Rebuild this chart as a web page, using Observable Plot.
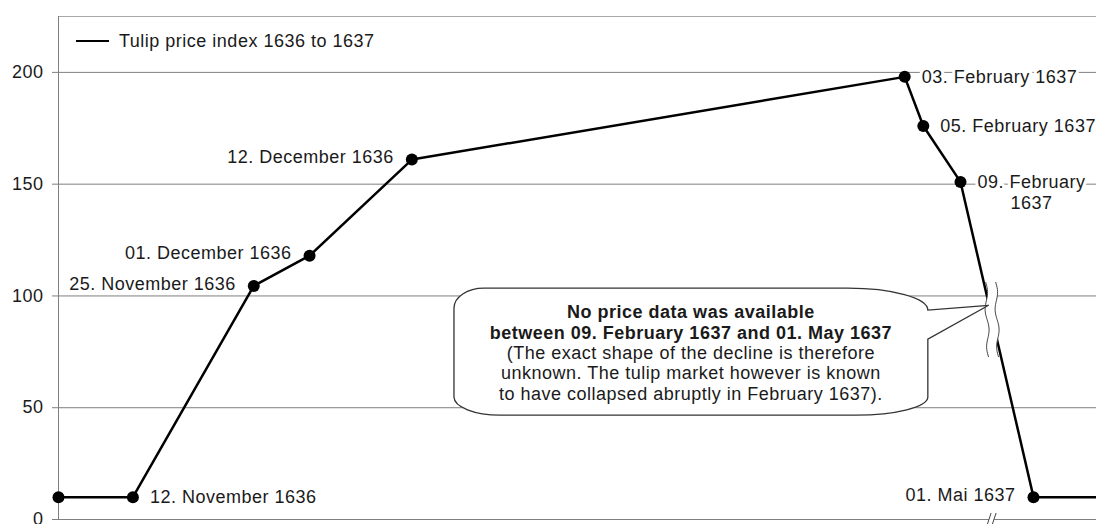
<!DOCTYPE html>
<html><head><meta charset="utf-8">
<script src="https://cdn.jsdelivr.net/npm/d3@7"></script>
<script src="https://cdn.jsdelivr.net/npm/@observablehq/plot@0.6"></script>
<style>
html,body{margin:0;padding:0;background:#fff;overflow:hidden}
svg text{letter-spacing:0.5px}
</style></head><body><div id="chart"></div>
<script>
// ---- data ----
const dates = ["1636-11-04","1636-11-12","1636-11-25","1636-12-01","1636-12-12","1637-02-03","1637-02-05","1637-02-09","1637-05-01","1637-05-08"];
const prices = [10, 10, 104.5, 118, 161, 198, 176, 151, 10, 10];
const pointLabels = ["", "12. November 1636", "25. November 1636", "01. December 1636", "12. December 1636", "03. February 1637", "05. February 1637", "09. February\n1637", "01. Mai 1637", ""];
const yTicks = [0, 50, 100, 150, 200];
const legendLabel = "Tulip price index 1636 to 1637";
const calloutLines = ["No price data was available", "between 09. February 1637 and 01. May 1637", "(The exact shape of the decline is therefore", "unknown. The tulip market however is known", "to have collapsed abruptly in February 1637)."];
const calloutBold = [true, true, false, false, false];

const data = dates.map((d, i) => ({date: new Date(d), price: prices[i], label: pointLabels[i], i}));
const gapStart = data[7], gapEnd = data[8];   // no data between these two points

// ---- annotation geometry (in data coordinates) ----
const callout = {x1: new Date("1636-12-16T14:00Z"), x2: new Date("1637-02-05T13:00Z"), y1: 103.3, y2: 46.5, tipValue: 95.6};
const breakValue = 89;

const ink = "#1a1a1a", gridColor = "#7f7f7f";
const font = "'Liberation Sans', Arial, Helvetica, sans-serif";

function onGap(scales, v) {
  const t = (gapStart.price - v) / (gapStart.price - gapEnd.price);
  const x0 = scales.x(gapStart.date), y0 = scales.y(gapStart.price);
  const x1 = scales.x(gapEnd.date), y1 = scales.y(gapEnd.price);
  return [x0 + t * (x1 - x0), y0 + t * (y1 - y0)];
}

function breakMark(index, scales, values, dims) {
  const [cx, cy] = onGap(scales, breakValue);
  const g = d3.create("svg:g");
  const wave = (off) => d3.range(0, 41).map(k => {
    const s = k / 40;
    return [cx + off + 3 * s - 1.5 + 1.6 * Math.sin(s * Math.PI * 4), cy - 38 + 75 * s];
  });
  const left = wave(-5), right = wave(5);
  g.append("path").attr("d", d3.line()(left.concat(right.slice().reverse())) + "Z").attr("fill", "white");
  g.append("path").attr("d", d3.line()(left)).attr("fill", "none").attr("stroke", "#444").attr("stroke-width", 1);
  g.append("path").attr("d", d3.line()(right)).attr("fill", "none").attr("stroke", "#444").attr("stroke-width", 1);
  // axis break on the x axis
  const by = scales.y(0), bx = cx;
  g.append("path").attr("d", `M${bx-5},${by+6}L${bx-1},${by-6}L${bx+4},${by-6}L${bx},${by+6}Z`).attr("fill", "white");
  g.append("path").attr("d", `M${bx-5},${by+6}L${bx-1},${by-6}M${bx},${by+6}L${bx+4},${by-6}`).attr("stroke", "#444").attr("stroke-width", 1);
  return g.node();
}

function calloutMark(index, scales, values, dims) {
  const L = scales.x(callout.x1), R = scales.x(callout.x2), T = scales.y(callout.y1), B = scales.y(callout.y2);
  const [tx, ty] = onGap(scales, callout.tipValue);
  const tl = [30, 20], tr = [80, 22], br = [72, 18], bl = [46, 18];
  const lowerBase = T + 51;
  const d = `M${L+tl[0]},${T}H${R-tr[0]}A${tr[0]},${tr[1]} 0 0 1 ${R},${T+tr[1]}` +
    `L${tx},${ty}L${R},${lowerBase}V${B-br[1]}A${br[0]},${br[1]} 0 0 1 ${R-br[0]},${B}` +
    `H${L+bl[0]}A${bl[0]},${bl[1]} 0 0 1 ${L},${B-bl[1]}V${T+tl[1]}A${tl[0]},${tl[1]} 0 0 1 ${L+tl[0]},${T}Z`;
  const g = d3.create("svg:g");
  g.append("path").attr("d", d).attr("fill", "white").attr("stroke", "#333").attr("stroke-width", 1.3);
  const cx = (L + R) / 2;
  calloutLines.forEach((line, k) => {
    g.append("text").attr("x", cx).attr("y", T + 24 + k * 20.3).attr("dy", "0.35em")
      .attr("text-anchor", "middle").attr("font-family", font).attr("font-size", 18)
      .attr("font-weight", calloutBold[k] ? "bold" : "normal").attr("letter-spacing", "0.75px")
      .attr("fill", ink).text(line);
  });
  return g.node();
}

function legendMark(index, scales, values, dims) {
  const g = d3.create("svg:g");
  const y = dims.marginTop + 25, x0 = dims.marginLeft;
  g.append("line").attr("x1", x0 + 18).attr("x2", x0 + 51).attr("y1", y).attr("y2", y).attr("stroke", "black").attr("stroke-width", 2);
  g.append("text").attr("x", x0 + 61).attr("y", y).attr("dy", "0.35em").attr("text-anchor", "start")
    .attr("font-family", font).attr("font-size", 18).attr("fill", ink).text(legendLabel);
  return g.node();
}

const rightIdx = [1, 5, 6], leftIdx = [2, 3, 4, 8], belowIdx = [7];
const halo = {stroke: "white", strokeWidth: 6, paintOrder: "stroke", fill: ink, fontSize: 18};

const chart = Plot.plot({
  width: 1096, height: 524,
  marginLeft: 58, marginRight: 0, marginTop: 16, marginBottom: 5,
  x: {type: "utc", domain: [data[0].date, gapStart.date, gapEnd.date, data[data.length - 1].date], range: [58, 960, 1033, 1096], axis: null},
  y: {domain: [0, 225]},
  style: {fontFamily: font, fontSize: "18px", color: ink, background: "white"},
  marks: [
    Plot.gridY(yTicks, {stroke: gridColor, strokeOpacity: 1}),
    Plot.ruleY([225], {stroke: "#a8a8a8"}),
    Plot.ruleX([data[0].date], {y1: 0, y2: 225, stroke: gridColor}),
    Plot.axisY(yTicks, {tickSize: 6, tickPadding: 9, stroke: gridColor, fill: ink, fontSize: 18, label: null}),
    Plot.text(data.filter(d => rightIdx.includes(d.i)), {x: "date", y: "price", text: "label", textAnchor: "start", dx: 17, ...halo}),
    Plot.text(data.filter(d => leftIdx.includes(d.i)), {x: "date", y: "price", text: "label", textAnchor: "end", dx: -18, dy: -2, ...halo}),
    Plot.text(data.filter(d => belowIdx.includes(d.i)), {x: "date", y: "price", text: "label", textAnchor: "middle", lineAnchor: "middle", lineHeight: 1.15, dx: 71, dy: 10, ...halo}),
    Plot.line(data, {x: "date", y: "price", stroke: "black", strokeWidth: 2.5}),
    Plot.dot(data.slice(0, 9), {x: "date", y: "price", r: 6, fill: "black"}),
    breakMark,
    calloutMark,
    legendMark
  ]
});
document.getElementById("chart").appendChild(chart);
</script>
</body></html>
